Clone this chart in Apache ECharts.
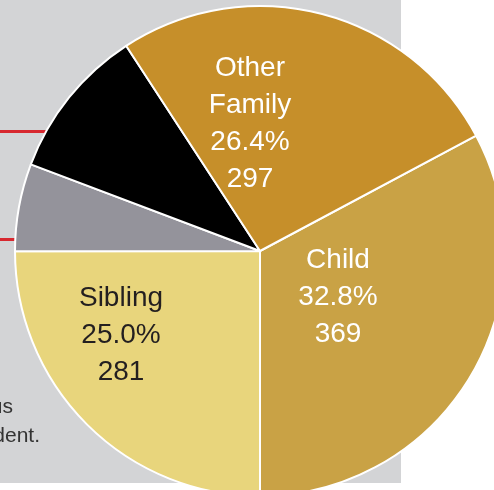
<!DOCTYPE html>
<html>
<head>
<meta charset="utf-8">
<script src="https://cdn.jsdelivr.net/npm/echarts@6/dist/echarts.min.js"></script>
<style>
  html, body { margin: 0; padding: 0; background: #fff; }
  #main { width: 494px; height: 490px; }
</style>
</head>
<body>
<div id="main"></div>
<script>
var chart = echarts.init(document.getElementById('main'));

// slices, clockwise from the Child / Other Family edge
var names = ['Child', 'Sibling', 'Other', 'None', 'Other Family'];
var counts = [369, 281, 65, 113, 297];
var shares = ['32.8%', '25.0%', '', '', '26.4%'];
var colors = ['#C9A245', '#E8D57C', '#94939B', '#000000', '#C68F2A'];
var labelNames = ['Child', 'Sibling', '', '', 'Other\nFamily'];
// where each label block sits (px)
var labelPos = [[338, 297], [121, 335], null, null, [250, 124]];

var total = counts.reduce(function (a, b) { return a + b; }, 0);
var start = -90 + counts[0] / total * 360;

var data = names.map(function (n, i) {
  var show = shares[i] !== '';
  return {
    name: n,
    value: counts[i],
    itemStyle: { color: colors[i] },
    label: {
      show: show,
      formatter: labelNames[i] + '\n' + shares[i] + '\n' + counts[i],
      color: i === 1 ? '#231F20' : '#ffffff'
    }
  };
});

var font = '"Liberation Sans Narrow", "Liberation Sans", Arial';

var option = {
  animation: false,
  graphic: [
    { type: 'rect', z: 0, shape: { x: 0, y: 0, width: 401, height: 483 }, style: { fill: '#D3D4D6' } },
    { type: 'line', z: 1, shape: { x1: 0, y1: 131.5, x2: 46, y2: 131.5 }, style: { stroke: '#D7282F', lineWidth: 3 } },
    { type: 'line', z: 1, shape: { x1: 0, y1: 239.5, x2: 16, y2: 239.5 }, style: { stroke: '#D7282F', lineWidth: 3 } },
    { type: 'text', z: 1, x: 13, y: 418, style: { text: 'us', fill: '#333333', font: '21px ' + font, textAlign: 'right', textVerticalAlign: 'bottom' } },
    { type: 'text', z: 1, x: 40, y: 447, style: { text: 'dent.', fill: '#333333', font: '21px ' + font, textAlign: 'right', textVerticalAlign: 'bottom' } }
  ],
  series: [{
    type: 'pie',
    z: 5,
    center: [260, 251],
    radius: 245,
    startAngle: start,
    clockwise: true,
    avoidLabelOverlap: false,
    itemStyle: { borderColor: '#ffffff', borderWidth: 2 },
    label: {
      position: 'inside',
      fontFamily: font,
      fontSize: 28,
      lineHeight: 37,
      align: 'center'
    },
    labelLine: { show: false },
    labelLayout: function (params) {
      var p = labelPos[params.dataIndex];
      if (!p) return {};
      return { x: p[0], y: p[1], align: 'center', verticalAlign: 'middle' };
    },
    emphasis: { disabled: true },
    data: data
  }]
};

chart.setOption(option);
</script>
</body>
</html>
